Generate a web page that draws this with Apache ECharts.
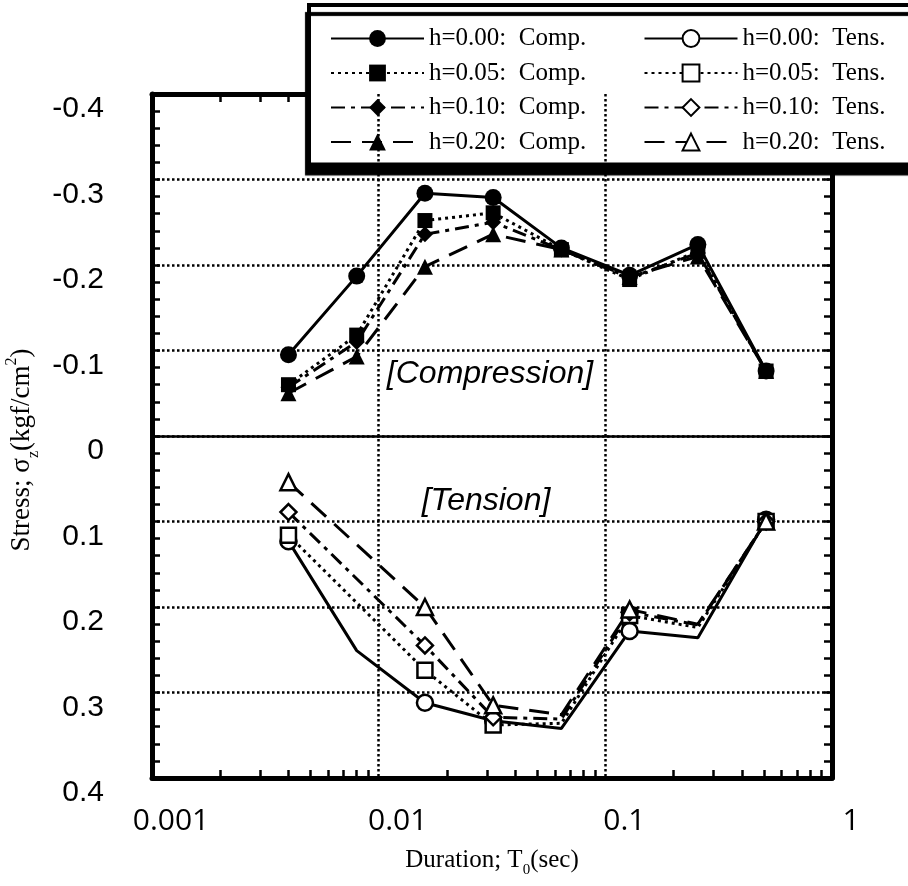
<!DOCTYPE html>
<html>
<head>
<meta charset="utf-8">
<script src="https://cdn.jsdelivr.net/npm/echarts@6/dist/echarts.min.js"></script>
<style>
html,body{margin:0;padding:0;background:#fff}
#main{width:908px;height:886px}
</style>
</head>
<body>
<div id="main"></div>
<script>
// 持续时间 T0 (sec)
var durations = [0.004, 0.008, 0.016, 0.032, 0.064, 0.128, 0.256, 0.512];

// 压缩侧 (负值)
var compH000 = [-0.095, -0.187, -0.284, -0.279, -0.220, -0.188, -0.224, -0.076];
var compH005 = [-0.060, -0.118, -0.252, -0.261, -0.218, -0.183, -0.216, -0.076];
var compH010 = [-0.057, -0.110, -0.236, -0.250, -0.218, -0.185, -0.214, -0.076];
var compH020 = [-0.050, -0.093, -0.198, -0.236, -0.218, -0.186, -0.210, -0.076];

// 拉伸侧 (正值), null = 没有该点
var tensH000 = [0.123, 0.251, 0.312, 0.333, 0.342, 0.228, 0.236, 0.098];
var tensH005 = [0.116, null, 0.274, 0.338, 0.336, 0.210, 0.224, 0.100];
var tensH010 = [0.089, null, 0.245, 0.329, 0.331, 0.206, 0.221, 0.100];
var tensH020 = [0.054, null, 0.200, 0.315, 0.326, 0.203, 0.220, 0.100];
// 拉伸曲线只在这些点画记号, 其余只是折点
var tensMarked = [true, false, true, true, false, true, false, true];

var xGridValues = [0.01, 0.1];
var decades = [0.001, 0.01, 0.1];

var minorTicks = [];
decades.forEach(function (d) {
    for (var k = 2; k <= 9; k++) {
        minorTicks.push(+(k * d).toPrecision(3));
    }
});

var myChart = echarts.init(document.getElementById('main'));

function pairs(ys, marked) {
    var out = [];
    for (var i = 0; i < durations.length; i++) {
        if (ys[i] === null) continue;
        var item = {value: [durations[i], ys[i]]};
        if (marked && !marked[i]) item.symbol = 'none';
        out.push(item);
    }
    return out;
}

var dashes = {
    solid: 'solid',
    dot: [3, 4],
    dashdot: [14, 6, 4, 6],
    dash: [20, 11]
};

function line(name, ys, symbol, size, filled, dash, marked) {
    return {
        name: name,
        type: 'line',
        data: pairs(ys, marked),
        connectNulls: true,
        symbol: symbol,
        symbolSize: size,
        showAllSymbol: true,
        lineStyle: {color: '#000', width: 3, type: dash},
        itemStyle: {
            color: filled ? '#000' : '#fff',
            borderColor: '#000',
            borderWidth: filled ? 0 : 2.5
        },
        emphasis: {disabled: true}
    };
}

var dotted = {color: '#000', type: [2.5, 2.5], width: 2.5};

var series = [
    line('h=0.00:  Comp.', compH000, 'circle', 17, true, dashes.solid),
    line('h=0.00:  Tens.', tensH000, 'circle', 16, false, dashes.solid, tensMarked),
    line('h=0.05:  Comp.', compH005, 'rect', 15, true, dashes.dot),
    line('h=0.05:  Tens.', tensH005, 'rect', 15, false, dashes.dot, tensMarked),
    line('h=0.10:  Comp.', compH010, 'diamond', 16, true, dashes.dashdot),
    line('h=0.10:  Tens.', tensH010, 'diamond', 16, false, dashes.dashdot, tensMarked),
    line('h=0.20:  Comp.', compH020, 'triangle', 16, true, dashes.dash),
    line('h=0.20:  Tens.', tensH020, 'triangle', 16, false, dashes.dash, tensMarked)
];

// 网格线 & 零线
var ml = [{yAxis: 0, lineStyle: {color: '#000', type: 'solid', width: 2.5}}];
xGridValues.forEach(function (v) {
    ml.push({xAxis: v, lineStyle: dotted});
});
series[0].markLine = {
    silent: true,
    symbol: ['none', 'none'],
    label: {show: false},
    animation: false,
    data: ml
};

var frameLine = {show: true, onZero: false, lineStyle: {color: '#000', width: 5}};
var tickStyle = {color: '#000', width: 2.5};

var option = {
    animation: false,
    backgroundColor: '#fff',
    grid: {left: 152, right: 76, top: 94, bottom: 108, containLabel: false, outerBoundsMode: 'none'},
    legend: {
        left: 309,
        top: 5,
        width: 700,
        orient: 'horizontal',
        itemWidth: 93,
        itemHeight: 21,
        itemGap: 9.5,
        padding: [21, 60, 10, 21],
        backgroundColor: '#fff',
        borderColor: '#000',
        borderWidth: 4,
        shadowColor: '#000',
        shadowBlur: 1,
        shadowOffsetX: -2,
        shadowOffsetY: 9,
        selectedMode: false,
        formatter: '{a|{name}}',
        textStyle: {
            fontFamily: 'Liberation Serif', fontSize: 25, color: '#000',
            rich: {a: {fontFamily: 'Liberation Serif', fontSize: 25, color: '#000', width: 205, lineHeight: 21}}
        },
        data: series.map(function (s) { return s.name; })
    },
    xAxis: [{
        type: 'log',
        logBase: 10,
        min: 0.001,
        max: 1,
        position: 'bottom',
        name: 'Duration; T{sub|0}(sec)',
        nameLocation: 'middle',
        nameGap: 64,
        nameTextStyle: {
            fontFamily: 'Liberation Serif', fontSize: 25, color: '#000', lineHeight: 36,
            rich: {sub: {fontFamily: 'Liberation Serif', fontSize: 15, verticalAlign: 'bottom', color: '#000'}}
        },
        axisLine: frameLine,
        axisTick: {show: true, inside: true, length: 8, lineStyle: tickStyle, customValues: minorTicks},
        axisLabel: {
            fontFamily: 'Open Sans', fontSize: 30, color: '#000', margin: 28,
            padding: [0, 0, 0, 38]
        },
        splitLine: {show: false}
    }, {
        type: 'log',
        logBase: 10,
        min: 0.001,
        max: 1,
        position: 'top',
        axisLine: frameLine,
        axisTick: {show: true, inside: true, length: 8, lineStyle: tickStyle, customValues: minorTicks},
        axisLabel: {show: false},
        splitLine: {show: false}
    }],
    yAxis: [{
        type: 'value',
        inverse: true,
        min: -0.4,
        max: 0.4,
        interval: 0.1,
        position: 'left',
        name: 'Stress; σ{sub|z}(kgf/cm{sup|2})',
        nameLocation: 'middle',
        nameGap: 95,
        nameTextStyle: {
            fontFamily: 'Liberation Serif', fontSize: 27, color: '#000', lineHeight: 38,
            padding: [0, 28, 0, 0],
            rich: {
                sub: {fontFamily: 'Liberation Serif', fontSize: 16, verticalAlign: 'bottom', color: '#000'},
                sup: {fontFamily: 'Liberation Serif', fontSize: 16, verticalAlign: 'top', color: '#000'}
            }
        },
        axisLine: frameLine,
        axisTick: {show: true, inside: true, length: 8, lineStyle: tickStyle},
        minorTick: {show: true, splitNumber: 5, length: 8, lineStyle: tickStyle},
        axisLabel: {
            fontFamily: 'Liberation Sans', fontSize: 30, color: '#000', margin: 48,
            verticalAlign: 'top'
        },
        splitLine: {show: true, lineStyle: dotted}
    }, {
        type: 'value',
        inverse: true,
        min: -0.4,
        max: 0.4,
        interval: 0.1,
        position: 'right',
        axisLine: frameLine,
        axisTick: {show: true, inside: true, length: 8, lineStyle: tickStyle},
        minorTick: {show: true, splitNumber: 5, length: 8, lineStyle: tickStyle},
        axisLabel: {show: false},
        splitLine: {show: false}
    }],
    graphic: [{
        type: 'text',
        x: 490,
        y: 374,
        style: {
            text: '[Compression]',
            fontFamily: 'Liberation Sans', fontSize: 32, fontStyle: 'italic',
            fill: '#000', align: 'center', verticalAlign: 'middle',
            textAlign: 'center', textVerticalAlign: 'middle'
        }
    }, {
        type: 'text',
        x: 486,
        y: 501,
        style: {
            text: '[Tension]',
            fontFamily: 'Liberation Sans', fontSize: 32, fontStyle: 'italic',
            fill: '#000', align: 'center', verticalAlign: 'middle',
            textAlign: 'center', textVerticalAlign: 'middle'
        }
    }],
    series: series
};

myChart.setOption(option);
</script>
</body>
</html>
